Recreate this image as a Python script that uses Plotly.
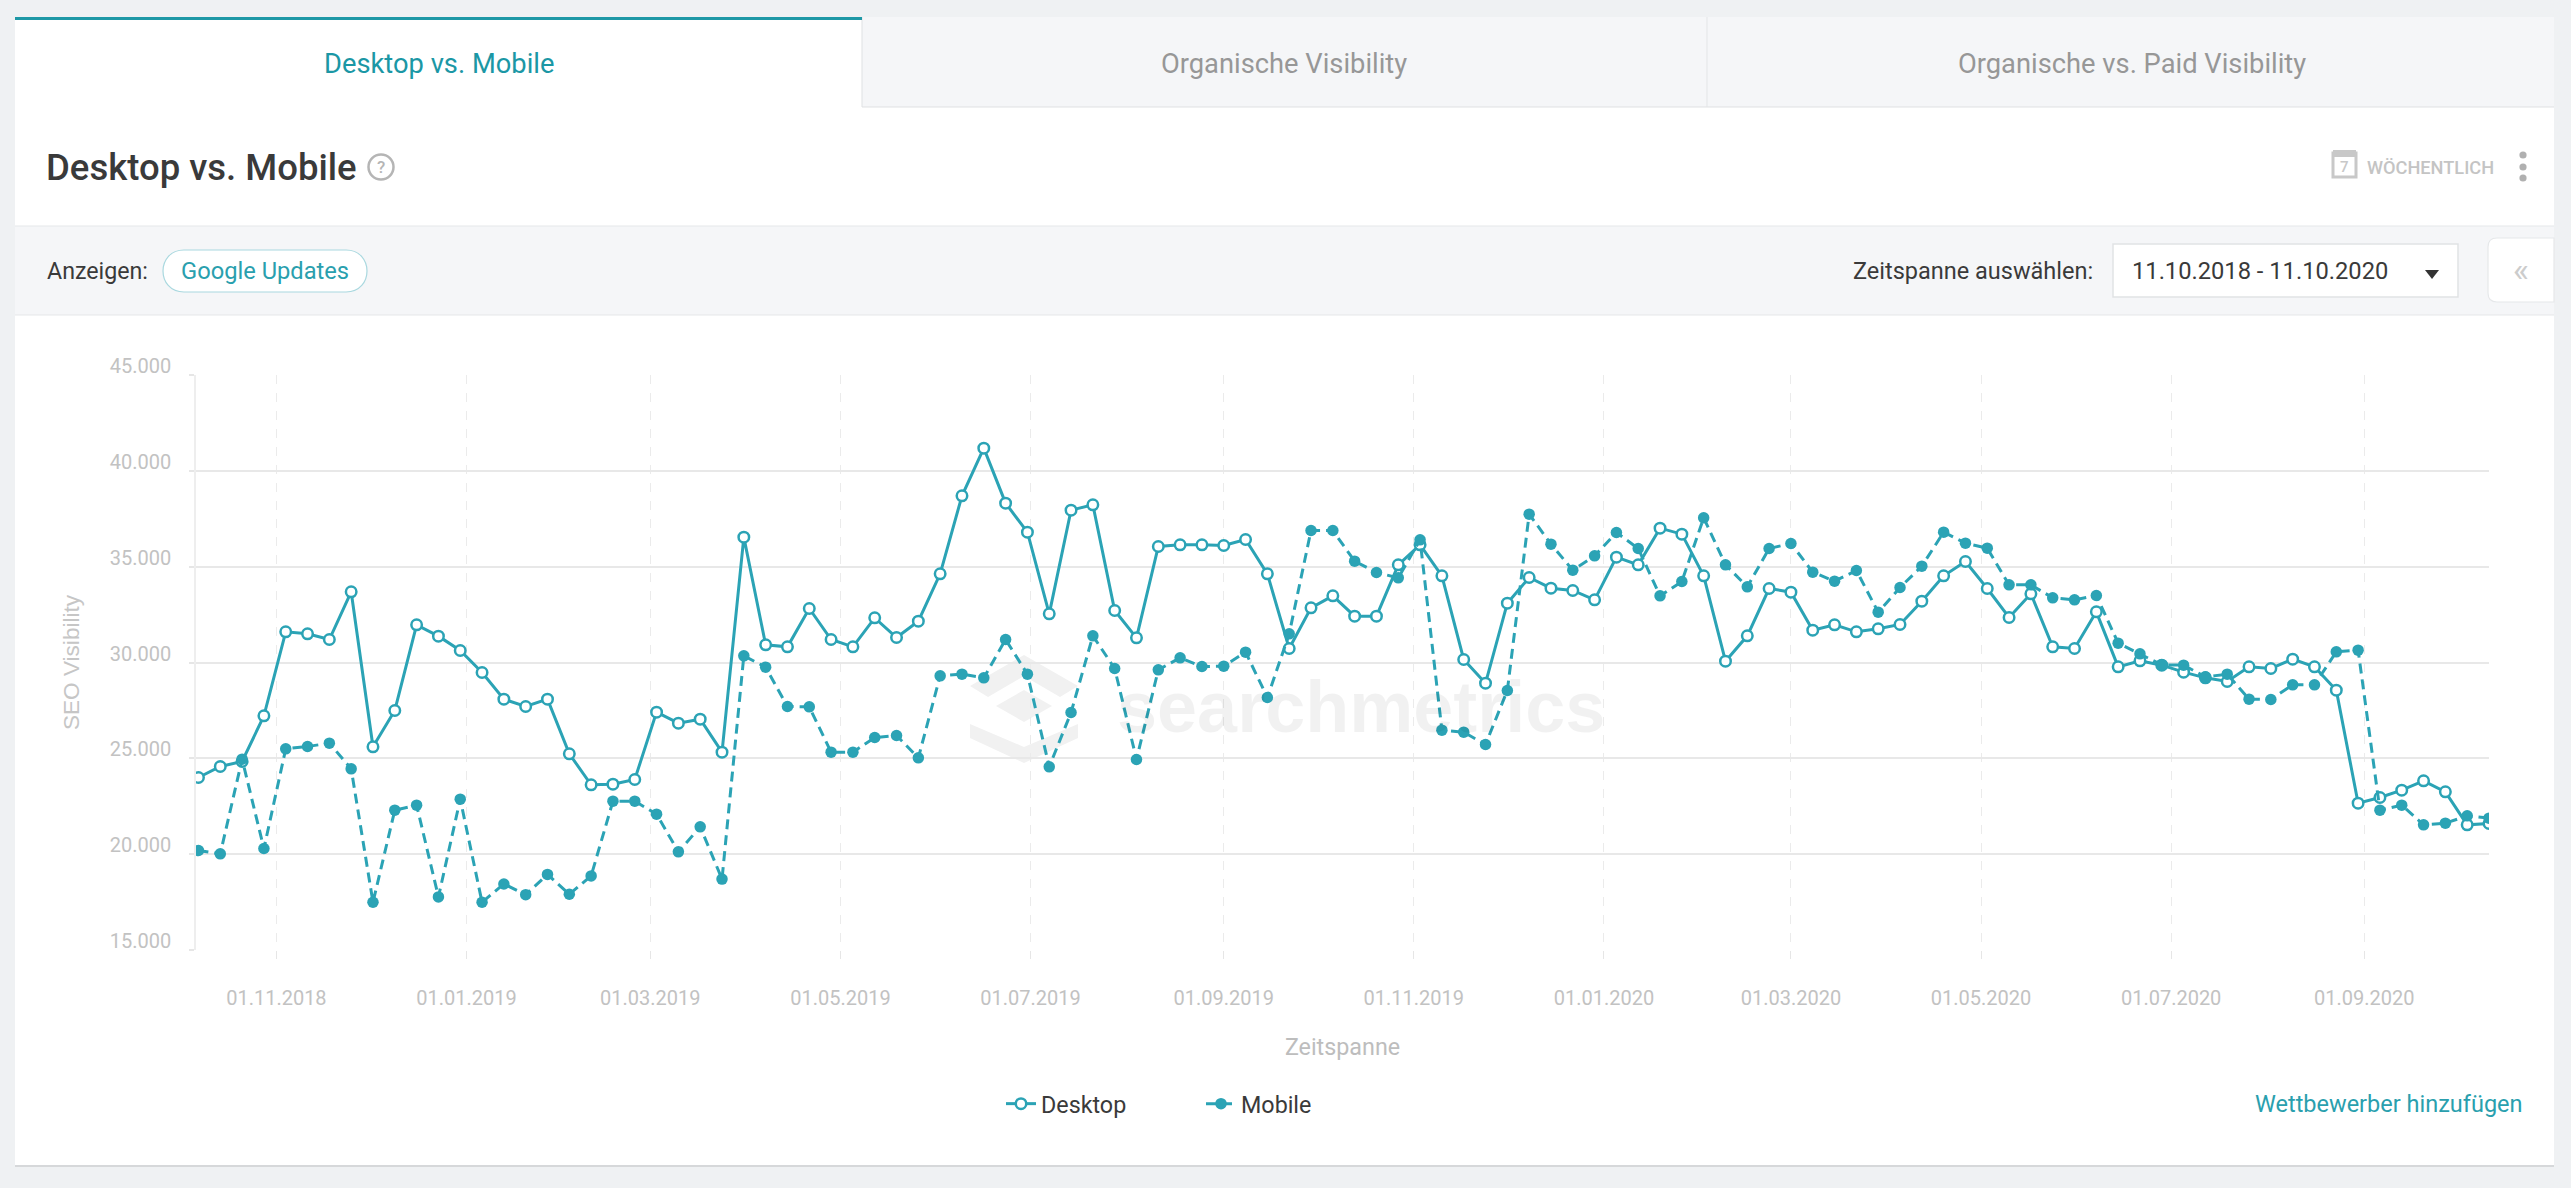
import plotly.graph_objects as go
import pandas as pd

start_date = "2018-10-07"
desktop = [24000,24574,24835,27217,31600,31495,31200,33687,25600,27496,31965,31374,30626,29478,28087,27704,28087,25235,23617,23652,23896,27409,26835,27043,25322,36539,
30922,30817,32817,31200,30817,32330,31304,32157,34626,38696,41183,38313,36800,32539,37948,38226,32713,31287,36052,36139,36139,36104,36417,34626,30730,32852,
33478,32417,32417,35096,36139,34522,30157,28922,33096,34435,33878,33757,33270,35496,35096,37009,36696,34522,30070,31391,33861,33670,31687,31965,31600,31757,
31983,33200,34522,35270,33861,32348,33583,30817,30730,32643,29774,30087,29861,29496,29200,29009,29774,29687,30174,29774,28557,22661,22957,23339,23826,23252,21530,21600]
mobile = [20191,20017,24957,20296,25496,25617,25791,24452,17490,22296,22557,17769,22870,17490,18446,17888,18944,17908,18865,22765,22765,22087,20122,21426,18700,30348,
29757,27704,27687,25322,25322,26087,26191,25026,29304,29391,29200,31200,29391,24557,27391,31391,29687,24939,29617,30243,29791,29809,30539,28174,31496,36887,
36887,35287,34696,34417,36400,26470,26365,25722,28539,37739,36174,34817,35565,36783,35948,33478,34226,37548,35096,33948,35948,36209,34713,34243,34800,32626,
33913,35026,36800,36226,35965,34052,34052,33374,33270,33496,31009,30452,29878,29861,29252,29391,28087,28070,28835,28835,30557,30643,22296,22557,21530,21617,22000,21878]
dates = pd.date_range(start_date, periods=len(desktop), freq="7D")

W, H = 2571, 1188
TEAL = "#2ba3b5"
TXT = "#3a3a3a"
def X(p): return p / W
def Y(p): return 1 - p / H

shapes, annots = [], []
def rect(x0, y0, x1, y1, fill, line=None, lw=1, layer="below"):
    shapes.append(dict(type="rect", xref="paper", yref="paper", x0=X(x0), x1=X(x1), y0=Y(y0), y1=Y(y1),
                       fillcolor=fill, line=dict(color=line or fill, width=lw if line else 0), layer=layer))
def hline(x0, x1, y, c, lw=1):
    shapes.append(dict(type="line", xref="paper", yref="paper", x0=X(x0), x1=X(x1), y0=Y(y), y1=Y(y),
                       line=dict(color=c, width=lw), layer="below"))
def vline(x, y0, y1, c, lw=1):
    shapes.append(dict(type="line", xref="paper", yref="paper", x0=X(x), x1=X(x), y0=Y(y0), y1=Y(y1),
                       line=dict(color=c, width=lw), layer="below"))
def path(pts, fill, line=None, lw=0):
    s = "M " + " L ".join(f"{X(a):.5f},{Y(b):.5f}" for a, b in pts) + " Z"
    shapes.append(dict(type="path", xref="paper", yref="paper", path=s, fillcolor=fill,
                       line=dict(color=line or fill, width=lw), layer="below"))
def rawpath(s, fill, line, lw):
    shapes.append(dict(type="path", xref="paper", yref="paper", path=s, fillcolor=fill,
                       line=dict(color=line, width=lw), layer="below"))
def circle(cx, cy, r, fill, line=None, lw=0):
    shapes.append(dict(type="circle", xref="paper", yref="paper", x0=X(cx-r), x1=X(cx+r), y0=Y(cy-r), y1=Y(cy+r),
                       fillcolor=fill, line=dict(color=line or fill, width=lw), layer="below"))
def text(t, x, y, size, color, anchor="left", weight=400, family="Roboto"):
    annots.append(dict(text=t, xref="paper", yref="paper", x=X(x), y=Y(y), xanchor=anchor, yanchor="middle",
                       showarrow=False, font=dict(family=family, size=size, color=color, weight=weight)))

# page and card
rect(15, 17, 2554, 1166, "#ffffff")
hline(15, 2554, 1166, "#d6d8da", 2)
# tabs
rect(862, 17, 2554, 107, "#f5f6f8")
hline(862, 2554, 107, "#dfe1e3")
vline(862, 17, 107, "#dfe1e3")
vline(1707, 17, 107, "#e3e5e7")
rect(15, 17, 862, 20, "#1e98a6")
text("Desktop vs. Mobile", 439, 64, 27.3, "#1b97a5", "center")
text("Organische Visibility", 1284, 64, 27.3, "#979797", "center")
text("Organische vs. Paid Visibility", 2132, 64, 27.3, "#979797", "center")
# title row
text("Desktop vs. Mobile", 43.5, 167, 36.5, TXT, "left", 500)
circle(381, 167, 12.5, "#ffffff", "#b5b5b5", 2.5)
text("?", 381, 167, 17, "#b5b5b5", "center", 500)
rect(2333, 153, 2356, 177, "#ffffff", "#c8c8c8", 3)
rect(2333, 150, 2356, 157, "#c8c8c8")
text("7", 2344.5, 167, 15, "#c8c8c8", "center", 500)
text("WÖCHENTLICH", 2364.5, 167, 18.2, "#c4c4c4", "left", 500)
for cy in (155, 167, 178):
    circle(2523, cy, 3.6, "#b0b0b0")
# filter band
rect(15, 226, 2554, 315, "#f5f6f8")
hline(15, 2554, 226, "#e5e7e9")
hline(15, 2554, 315, "#e5e7e9")
text("Anzeigen:", 45, 271, 23.2, TXT)
rawpath("M {a},{t} L {b},{t} C {c},{t} {c},{u} {b},{u} L {a},{u} C {d},{u} {d},{t} {a},{t} Z".format(
        a=X(184), b=X(346), c=X(374), d=X(156), t=Y(250), u=Y(292)), "#ffffff", "#a9d8df", 1.2)
text("Google Updates", 265, 271, 23.7, "#2a9fae", "center")
text("Zeitspanne auswählen:", 1851, 271, 23.5, TXT)
rect(2113, 244, 2458, 297, "#ffffff", "#e1e3e5", 1.5)
text("11.10.2018 - 11.10.2020", 2130, 271, 23.7, TXT)
path([(2425, 270), (2439, 270), (2432, 279)], "#333333")
rawpath("M {r},{t} L {a},{t} Q {l},{t} {l},{tt} L {l},{bb} Q {l},{u} {a},{u} L {r},{u} Z".format(
        r=X(2554), a=X(2497), l=X(2488), t=Y(238), u=Y(302), tt=Y(247), bb=Y(293)), "#ffffff", "#e6e8ea", 1.2)
text("«", 2521, 269, 34, "#cccccc", "center")
# footer
text("Wettbewerber hinzufügen", 2525, 1104, 23.5, "#2a9fae", "right")

# watermark
path([(1024, 655), (1078, 686), (1060, 697), (1024, 676), (988, 697), (970, 686)], "#f1f1f1")
path([(1024, 690), (1052, 706), (1024, 722), (996, 706)], "#f1f1f1")
path([(970, 724), (1024, 747), (1078, 724), (1078, 738), (1024, 763), (970, 738)], "#f1f1f1")
annots.append(dict(text="searchmetrics", xref="paper", yref="paper", x=X(1115), y=Y(707), xanchor="left", yanchor="middle",
                   showarrow=False, font=dict(family="Liberation Sans", size=72, color="rgba(0,0,0,0.055)", weight=700)))

fig = go.Figure()
fig.add_trace(go.Scatter(x=dates, y=desktop, name="Desktop", mode="lines+markers",
                         line=dict(color=TEAL, width=3),
                         marker=dict(symbol="circle", size=10.5, color="#ffffff", line=dict(color=TEAL, width=2.5))))
fig.add_trace(go.Scatter(x=dates, y=mobile, name="Mobile", mode="lines+markers",
                         line=dict(color=TEAL, width=3, dash="10px,6px"),
                         marker=dict(symbol="circle", size=11.5, color=TEAL, line=dict(color=TEAL, width=0))))

fig.update_layout(
    width=W, height=H, autosize=False, margin=dict(l=0, r=0, t=0, b=0, autoexpand=False),
    paper_bgcolor="#eff1f3", plot_bgcolor="rgba(0,0,0,0)",
    separators=",.", font=dict(family="Roboto"),
    shapes=shapes, annotations=annots, hovermode=False,
    xaxis=dict(domain=[X(196), X(2489)], type="date", range=["2018-10-06 05:00", "2020-10-11"],
               tick0="2018-11-01", dtick="M2", tickformat="%d.%m.%Y",
               tickfont=dict(size=20, color="#c2c2c2"), ticks="outside", ticklen=8, tickcolor="#e6e6e6", tickwidth=1,
               ticklabelstandoff=22,
               showgrid=True, gridcolor="#ebebeb", griddash="dash", gridwidth=1.2,
               showline=False, zeroline=False,
               title=dict(text="Zeitspanne", standoff=29, font=dict(size=23.3, color="#bdbdbd"))),
    yaxis=dict(domain=[Y(950), Y(375)], range=[15000, 45000], tick0=15000, dtick=5000, tickformat=",d",
               tickfont=dict(size=20, color="#c2c2c2"), ticks="outside", ticklen=5, tickcolor="#e6e6e6", tickwidth=1.5,
               ticklabelstandoff=14, ticklabelshift=-9,
               showgrid=True, gridcolor="#e8e8e8", gridwidth=1.5, showline=True, linecolor="#eeeeee", linewidth=1.5,
               zeroline=False,
               title=dict(text="SEO Visibility", standoff=24, font=dict(family="Liberation Sans", size=22.6, color="#c6c6c6"))),
    legend=dict(orientation="h", x=X(1001), xanchor="left", y=Y(1104), yanchor="middle",
                font=dict(size=23.3, color=TXT), itemwidth=30, entrywidth=155, entrywidthmode="pixels",
                bgcolor="rgba(0,0,0,0)"),
)
fig.write_html("out.html", config=dict(displayModeBar=False),
               post_script="document.body.style.margin='0';document.body.style.overflow='hidden';")
